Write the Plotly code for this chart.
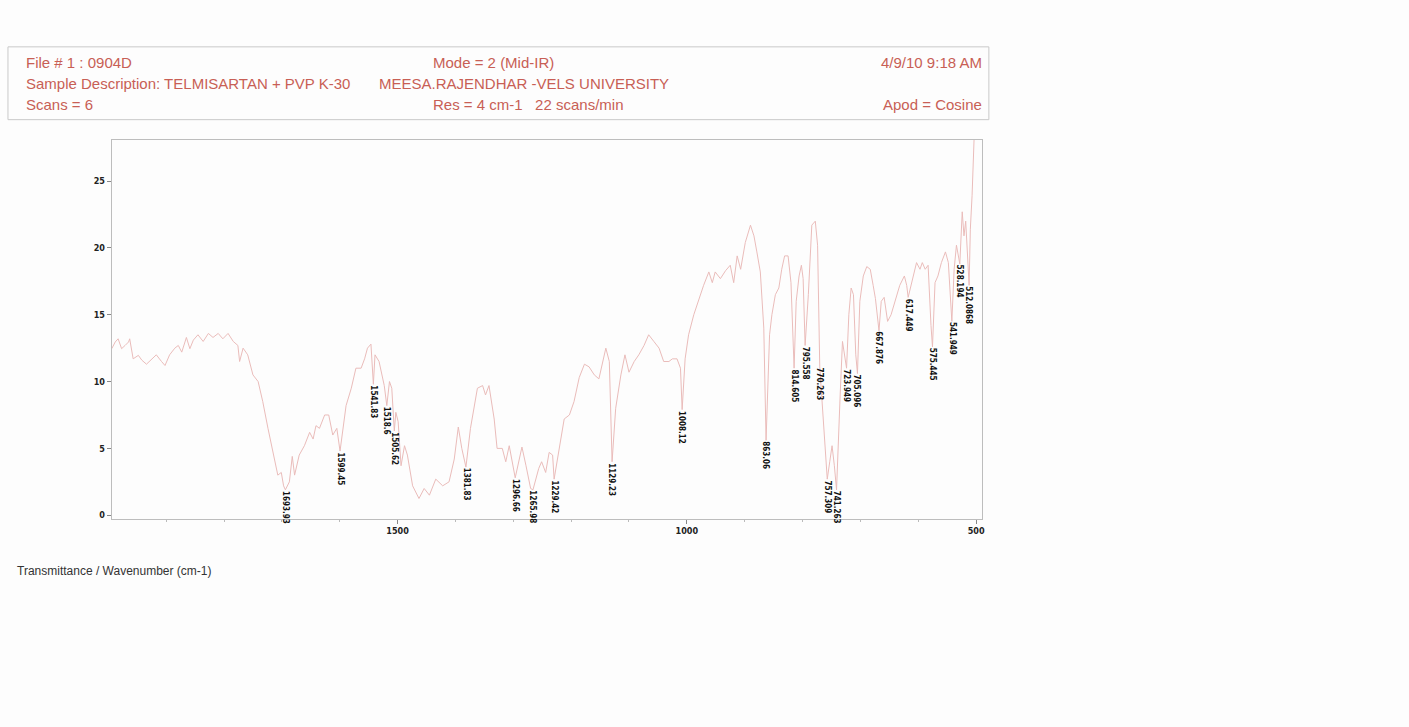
import plotly.graph_objects as go

# ---------------- data ----------------
wavenumber = [
    1994, 1988, 1983, 1977, 1971, 1965, 1963, 1957, 1948, 1942, 1934, 1925, 1917, 1908, 1902,
    1894, 1885, 1879, 1873, 1865, 1859, 1853, 1845, 1836, 1827, 1819, 1810, 1802, 1793, 1784,
    1776, 1773, 1767, 1759, 1750, 1741, 1733, 1724, 1715, 1707, 1701, 1697, 1693.93, 1687, 1682,
    1678, 1670, 1661, 1652, 1646, 1641, 1635, 1626, 1619, 1612, 1605, 1599.45, 1589, 1580, 1572,
    1563, 1557, 1552, 1546, 1541.83, 1539, 1532, 1523, 1518.6, 1514, 1510, 1505.62, 1503, 1499,
    1494, 1488, 1483, 1474, 1463, 1454, 1445, 1434, 1422, 1411, 1402, 1395, 1389, 1381.83, 1374,
    1362, 1353, 1348, 1342, 1333, 1328, 1319, 1313, 1307, 1296.66, 1291, 1285, 1278, 1270,
    1265.98, 1256, 1251, 1244, 1238, 1232, 1229.42, 1221, 1212, 1203, 1195, 1186, 1177, 1169,
    1160, 1152, 1140, 1134, 1129.23, 1123, 1114, 1107, 1100, 1091, 1083, 1074, 1066, 1057, 1048,
    1040, 1031, 1025, 1017, 1011, 1008.12, 1003, 997, 988, 979, 971, 962, 956, 951, 942, 933,
    925, 919, 913, 907, 899, 890, 884, 879, 873, 867, 863.06, 857, 853, 847, 841, 836, 831, 825,
    820, 814.605, 811, 806, 802, 799, 795.558, 790, 784, 778, 774, 770.263, 765, 757.309, 753,
    749, 745, 741.263, 735, 731, 723.949, 720, 716, 712, 708, 705.096, 701, 695, 689, 683, 678,
    674, 667.876, 664, 659, 653, 647, 640, 632, 624, 620, 617.449, 610, 603, 597, 593, 588, 583,
    578, 575.445, 571, 566, 560, 553, 548, 541.949, 538, 534, 528.194, 526, 524, 521, 518,
    512.0868, 510, 507, 505, 502,
]
transmittance = [
    12.46, 12.96, 13.2, 12.46, 12.7, 12.96, 13.2, 11.7, 11.96, 11.6, 11.3, 11.7, 12.0, 11.5, 11.2,
    12.0, 12.5, 12.7, 12.2, 13.3, 12.46, 13.1, 13.5, 13.0, 13.6, 13.3, 13.6, 13.2, 13.6, 13.0,
    12.7, 11.5, 12.5, 12.0, 10.5, 10.0, 8.5, 6.5, 4.5, 3.0, 3.2, 2.2, 1.9, 2.5, 4.4,
    3.0, 4.5, 5.2, 6.2, 5.7, 6.7, 6.5, 7.5, 7.5, 6.0, 6.5, 4.8, 8.2, 9.5, 11.0,
    11.0, 11.7, 12.5, 12.8, 9.8, 12.0, 11.5, 9.7, 8.2, 10.0, 9.5, 6.3, 7.7, 7.0,
    3.7, 5.2, 4.5, 2.2, 1.25, 2.0, 1.5, 2.7, 2.2, 2.5, 4.2, 6.6, 5.0, 3.6, 6.5,
    9.5, 9.7, 9.0, 9.7, 7.2, 5.0, 5.0, 4.0, 5.2, 2.8, 4.0, 5.1, 3.7, 2.0,
    1.9, 3.5, 4.0, 3.2, 4.7, 4.5, 2.7, 5.0, 7.2, 7.5, 8.5, 10.3, 11.3, 11.1,
    10.5, 10.2, 12.5, 11.5, 4.0, 8.0, 10.5, 12.0, 10.7, 11.5, 12.0, 12.7, 13.5, 13.0, 12.5,
    11.5, 11.5, 11.7, 11.7, 11.0, 7.9, 11.7, 13.5, 15.0, 16.2, 17.2, 18.2, 17.4, 18.2, 17.7, 18.3,
    18.7, 17.4, 19.4, 18.4, 20.4, 21.7, 20.9, 19.7, 18.2, 14.0, 5.6, 13.5, 15.0, 16.5, 17.0, 18.4, 19.4, 19.4,
    17.4, 11.0, 16.0, 17.9, 18.7, 17.7, 12.7, 16.5, 21.7, 22.0, 20.2, 11.1, 7.7, 2.7, 4.0,
    5.2, 3.7, 1.9, 9.0, 13.0, 11.0, 15.0, 17.0, 16.5, 12.0, 10.6, 16.0, 17.9, 18.6, 18.4, 17.2,
    16.2, 13.8, 16.0, 16.3, 14.5, 15.0, 16.0, 17.2, 17.9, 17.2, 16.3, 17.7, 18.9, 18.4, 18.9, 18.4, 18.7,
    14.2, 12.6, 17.4, 17.9, 18.9, 19.7, 18.9, 14.5, 18.4, 20.2, 18.8, 21.4, 22.7, 20.9, 22.0,
    17.2, 21.4, 23.9, 28.2, 30.0,
]

peak_labels = [
    "1693.93", "1599.45", "1541.83", "1518.6", "1505.62", "1381.83", "1296.66", "1265.98",
    "1229.42", "1129.23", "1008.12", "863.06", "814.605", "795.558", "770.263", "757.309",
    "741.263", "723.949", "705.096", "667.876", "617.449", "575.445", "541.949", "528.194",
    "512.0868",
]
peak_wn = [
    1693.93, 1599.45, 1541.83, 1518.6, 1505.62, 1381.83, 1296.66, 1265.98,
    1229.42, 1129.23, 1008.12, 863.06, 814.605, 795.558, 770.263, 757.309,
    741.263, 723.949, 705.096, 667.876, 617.449, 575.445, 541.949, 528.194,
    512.0868,
]
peak_t = [
    1.9, 4.8, 9.8, 8.2, 6.3, 3.6, 2.8, 1.9,
    2.7, 4.0, 7.9, 5.6, 11.0, 12.7, 11.1, 2.7,
    1.9, 11.0, 10.6, 13.8, 16.3, 12.6, 14.5, 18.8,
    17.2,
]

x_ticks = [1500, 1000, 500]
y_ticks = [0, 5, 10, 15, 20, 25]

header_rows = [
    ["File # 1 : 0904D", "Mode = 2 (Mid-IR)", "4/9/10 9:18 AM"],
    ["Sample Description: TELMISARTAN + PVP K-30", "MEESA.RAJENDHAR -VELS UNIVERSITY", ""],
    ["Scans = 6", "Res = 4 cm-1   22 scans/min", "Apod = Cosine"],
]
footer_text = "Transmittance / Wavenumber (cm-1)"

# ---------------- figure ----------------
W, H = 1409, 727
HEAD = "#c85f55"
LINE = "#eabcba"
NARROW = "Liberation Sans Narrow, DejaVu Sans Condensed, Arial Narrow, sans-serif"
SANS = "Liberation Sans, Arial, sans-serif"

def px(x):
    return x / W

def py(y):
    return 1 - y / H

fig = go.Figure()
fig.add_trace(go.Scatter(
    x=wavenumber, y=transmittance, mode="lines",
    line=dict(color=LINE, width=1), hoverinfo="x+y", showlegend=False,
))

annotations = []
for lab, xw, yt in zip(peak_labels, peak_wn, peak_t):
    annotations.append(dict(
        x=xw, y=yt, xref="x", yref="y", text="<b>" + lab + "</b>", showarrow=False,
        textangle=90, xanchor="center", yanchor="top",
        font=dict(family=NARROW, size=8, color="#111111"),
        borderpad=0, bgcolor="rgba(255,255,255,0)",
    ))

# header texts
row_y = [63, 84, 105]
for r, (a, b, c) in enumerate(header_rows):
    annotations.append(dict(x=px(24), y=py(row_y[r]), xref="paper", yref="paper", text=a,
                            showarrow=False, xanchor="left", yanchor="middle",
                            font=dict(family=SANS, size=15, color=HEAD)))
    if b:
        bx = 432 if r != 1 else 378
        annotations.append(dict(x=px(bx), y=py(row_y[r]), xref="paper", yref="paper", text=b,
                                showarrow=False, xanchor="left", yanchor="middle",
                                font=dict(family=SANS, size=15, color=HEAD)))
    if c:
        annotations.append(dict(x=px(986), y=py(row_y[r]), xref="paper", yref="paper", text=c,
                                showarrow=False, xanchor="right", yanchor="middle",
                                font=dict(family=SANS, size=15, color=HEAD)))

annotations.append(dict(x=px(15), y=py(573), xref="paper", yref="paper", text=footer_text,
                        showarrow=False, xanchor="left", yanchor="middle",
                        font=dict(family=SANS, size=12, color="#333333")))

shapes = [
    dict(type="rect", xref="paper", yref="paper", x0=px(8), x1=px(991), y0=py(47), y1=py(120),
         line=dict(color="#c9c9c9", width=1), fillcolor="rgba(0,0,0,0)", layer="below"),
]

fig.update_layout(
    width=W, height=H,
    margin=dict(l=0, r=0, t=0, b=0),
    paper_bgcolor="#fdfdfd", plot_bgcolor="#fdfdfd",
    annotations=annotations, shapes=shapes,
    xaxis=dict(
        domain=[px(112), px(984)], range=[1994, 490], tickvals=x_ticks,
        ticktext=["<b>%d</b>" % v for v in x_ticks],
        showgrid=False, zeroline=False, showline=True, mirror=True,
        linecolor="#bdbdbd", linewidth=1, ticks="outside", ticklen=4, tickcolor="#888888",
        tickfont=dict(family=NARROW, size=9, color="#222222"),
        minor=dict(ticks="outside", ticklen=2, tickcolor="#bbbbbb", dtick=100),
    ),
    yaxis=dict(
        domain=[py(520), py(140)], range=[-0.25, 28.1], tickvals=y_ticks,
        ticktext=["<b>%d</b>" % v for v in y_ticks],
        showgrid=False, zeroline=False, showline=True, mirror=True,
        linecolor="#bdbdbd", linewidth=1, ticks="outside", ticklen=4, tickcolor="#888888",
        tickfont=dict(family=NARROW, size=9, color="#222222"),
    ),
)

fig.write_html("out.html")
